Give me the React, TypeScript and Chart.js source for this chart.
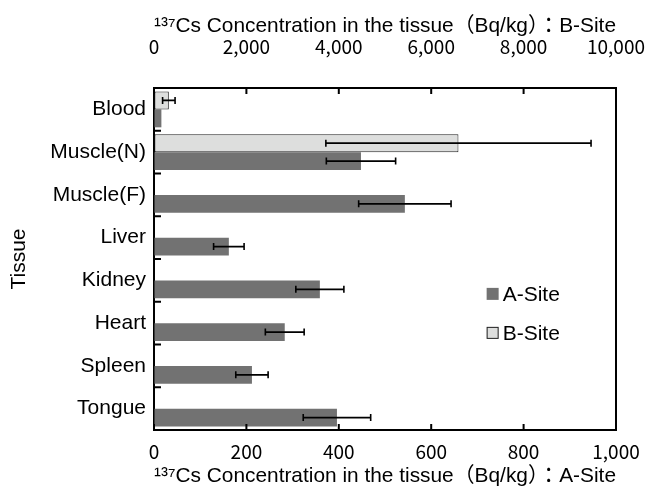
import React, { useEffect, useRef } from 'react';
import { Chart, registerables } from 'chart.js';

Chart.register(...registerables);

// ---- data ----
const tissues = ['Blood', 'Muscle(N)', 'Muscle(F)', 'Liver', 'Kidney', 'Heart', 'Spleen', 'Tongue'];
const siteA = [16, 448, 543, 162, 359, 283, 212, 396];
const siteAErr = [0, 75, 100, 33, 52, 42, 35, 73];
const siteB: (number | null)[] = [321, 6590, null, null, null, null, null, null];
const siteBErr: (number | null)[] = [135, 2870, null, null, null, null, null, null];
const axisATicks = [0, 200, 400, 600, 800, 1000];
const axisBTicks = [0, 2000, 4000, 6000, 8000, 10000];
const legendLabels = ['A-Site', 'B-Site'];
const titleA = '¹³⁷Cs Concentration in the tissue（Bq/kg）：A-Site';
const titleB = '¹³⁷Cs Concentration in the tissue（Bq/kg）：B-Site';
const titleY = 'Tissue';

const COLOR_A = 'rgb(114,114,114)';
const COLOR_B = 'rgb(221,222,221)';
const TEXT_FONT = "'Liberation Sans', 'Noto Sans CJK JP', sans-serif";
const NUM_FONT = "'Noto Sans CJK JP', 'Liberation Sans', sans-serif";
const TEXT_SIZE = 21;

const fmt = (v: number) => v.toLocaleString('en-US');

const errorBarPlugin = {
  id: 'errorBars',
  afterDatasetsDraw(chart: any) {
    const ctx = chart.ctx;
    chart.data.datasets.forEach((ds: any, di: number) => {
      const meta = chart.getDatasetMeta(di);
      const scale = chart.scales[ds.xAxisID];
      meta.data.forEach((bar: any, i: number) => {
        const v = ds.data[i];
        const e = ds.errors ? ds.errors[i] : null;
        if (v == null || !e) return;
        const y = bar.y;
        const x1 = scale.getPixelForValue(v - e);
        const x2 = scale.getPixelForValue(v + e);
        ctx.save();
        ctx.strokeStyle = '#000';
        ctx.lineWidth = 1.6;
        ctx.beginPath();
        ctx.moveTo(x1, y);
        ctx.lineTo(x2, y);
        ctx.moveTo(x1, y - 3.5);
        ctx.lineTo(x1, y + 3.5);
        ctx.moveTo(x2, y - 3.5);
        ctx.lineTo(x2, y + 3.5);
        ctx.stroke();
        ctx.restore();
      });
    });
  },
};

const framePlugin = {
  id: 'frameTicks',
  afterDraw(chart: any) {
    const { ctx, chartArea, scales } = chart;
    const { left, right, top, bottom } = chartArea;
    ctx.save();
    ctx.strokeStyle = '#000';
    ctx.lineWidth = 2;
    ctx.beginPath();
    ctx.moveTo(right, top - 1);
    ctx.lineTo(right, bottom + 1);
    scales.x.ticks.forEach((t: any) => {
      const px = scales.x.getPixelForValue(t.value);
      ctx.moveTo(px, bottom);
      ctx.lineTo(px, bottom - 6);
    });
    scales.x2.ticks.forEach((t: any) => {
      const px = scales.x2.getPixelForValue(t.value);
      ctx.moveTo(px, top);
      ctx.lineTo(px, top + 6);
    });
    const n = tissues.length;
    const h = (bottom - top) / n;
    for (let k = 1; k < n; k++) {
      const y = top + k * h;
      ctx.moveTo(left, y);
      ctx.lineTo(left + 7, y);
    }
    ctx.stroke();

    // legend inside plot area
    const colors = [COLOR_A, COLOR_B];
    const lx = left + (right - left) * 0.72;
    const ys = [top + (bottom - top) * 0.602, top + (bottom - top) * 0.716];
    ctx.font = `${TEXT_SIZE}px ${TEXT_FONT}`;
    ctx.textBaseline = 'middle';
    ctx.textAlign = 'left';
    legendLabels.forEach((lab, i) => {
      const y = ys[i];
      ctx.fillStyle = colors[i];
      ctx.fillRect(lx, y - 6, 12, 12);
      if (i === 1) {
        ctx.lineWidth = 1;
        ctx.strokeStyle = '#222';
        ctx.strokeRect(lx + 0.5, y - 5.5, 11, 11);
      }
      ctx.fillStyle = '#000';
      ctx.fillText(lab, lx + 16, y + 1);
    });
    ctx.restore();
  },
};

export default function App() {
  const ref = useRef<HTMLCanvasElement | null>(null);
  useEffect(() => {
    if (!ref.current) return;
    Chart.defaults.color = '#000';
    Chart.defaults.font.family = TEXT_FONT;
    const chart = new Chart(ref.current, {
      type: 'bar',
      data: {
        labels: tissues,
        datasets: [
          {
            label: legendLabels[1],
            data: siteB,
            errors: siteBErr,
            xAxisID: 'x2',
            backgroundColor: COLOR_B,
            borderColor: '#222',
            borderWidth: 1,
            borderSkipped: false,
          } as any,
          {
            label: legendLabels[0],
            data: siteA,
            errors: siteAErr,
            xAxisID: 'x',
            backgroundColor: COLOR_A,
            borderWidth: 0,
          } as any,
        ],
      },
      options: {
        indexAxis: 'y',
        animation: false,
        responsive: true,
        maintainAspectRatio: false,
        categoryPercentage: 0.84,
        barPercentage: 1.0,
        layout: { padding: { left: 0, right: 30, top: 0, bottom: 0 } },
        plugins: { legend: { display: false }, tooltip: { enabled: false } },
        scales: {
          y: {
            type: 'category',
            grid: { drawOnChartArea: false, drawTicks: false },
            border: { display: true, color: '#000', width: 2 },
            ticks: { font: { size: TEXT_SIZE, family: TEXT_FONT }, padding: 8, color: '#000' },
            title: {
              display: true,
              text: titleY,
              font: { size: TEXT_SIZE, family: TEXT_FONT },
              color: '#000',
              padding: { top: 7, bottom: 0 },
            },
            afterFit: (s: any) => {
              s.width = 154;
              s.paddingTop = 0;
              s.paddingBottom = 0;
            },
          },
          x: {
            type: 'linear',
            position: 'bottom',
            min: axisATicks[0],
            max: axisATicks[axisATicks.length - 1],
            afterBuildTicks: (s: any) => {
              s.ticks = axisATicks.map((v) => ({ value: v }));
            },
            grid: { drawOnChartArea: false, drawTicks: false },
            border: { display: true, color: '#000', width: 2 },
            ticks: {
              autoSkip: false,
              maxRotation: 0,
              padding: 10,
              font: { size: 19, family: NUM_FONT },
              color: '#000',
              callback: (v: any) => fmt(Number(v)),
            },
            title: {
              display: true,
              text: titleA,
              font: { size: TEXT_SIZE, family: TEXT_FONT },
              color: '#000',
              padding: { top: 0, bottom: 10 },
            },
            afterFit: (s: any) => {
              s.height = 69;
              s.paddingLeft = 0;
              s.paddingRight = 0;
            },
          },
          x2: {
            type: 'linear',
            axis: 'x',
            position: 'top',
            min: axisBTicks[0],
            max: axisBTicks[axisBTicks.length - 1],
            afterBuildTicks: (s: any) => {
              s.ticks = axisBTicks.map((v) => ({ value: v }));
            },
            grid: { drawOnChartArea: false, drawTicks: false },
            border: { display: true, color: '#000', width: 2 },
            ticks: {
              autoSkip: false,
              maxRotation: 0,
              padding: 30,
              font: { size: 19, family: NUM_FONT },
              color: '#000',
              callback: (v: any) => fmt(Number(v)),
            },
            title: {
              display: true,
              text: titleB,
              font: { size: TEXT_SIZE, family: TEXT_FONT },
              color: '#000',
              padding: { top: 14, bottom: 0 },
            },
            afterFit: (s: any) => {
              s.height = 88;
              s.paddingLeft = 0;
              s.paddingRight = 0;
            },
          },
        } as any,
      },
      plugins: [errorBarPlugin, framePlugin],
    } as any);
    return () => chart.destroy();
  }, []);

  return (
    <div style={{ position: 'fixed', left: 0, top: 0, width: 646, height: 499, background: '#fff' }}>
      <canvas ref={ref} />
    </div>
  );
}
